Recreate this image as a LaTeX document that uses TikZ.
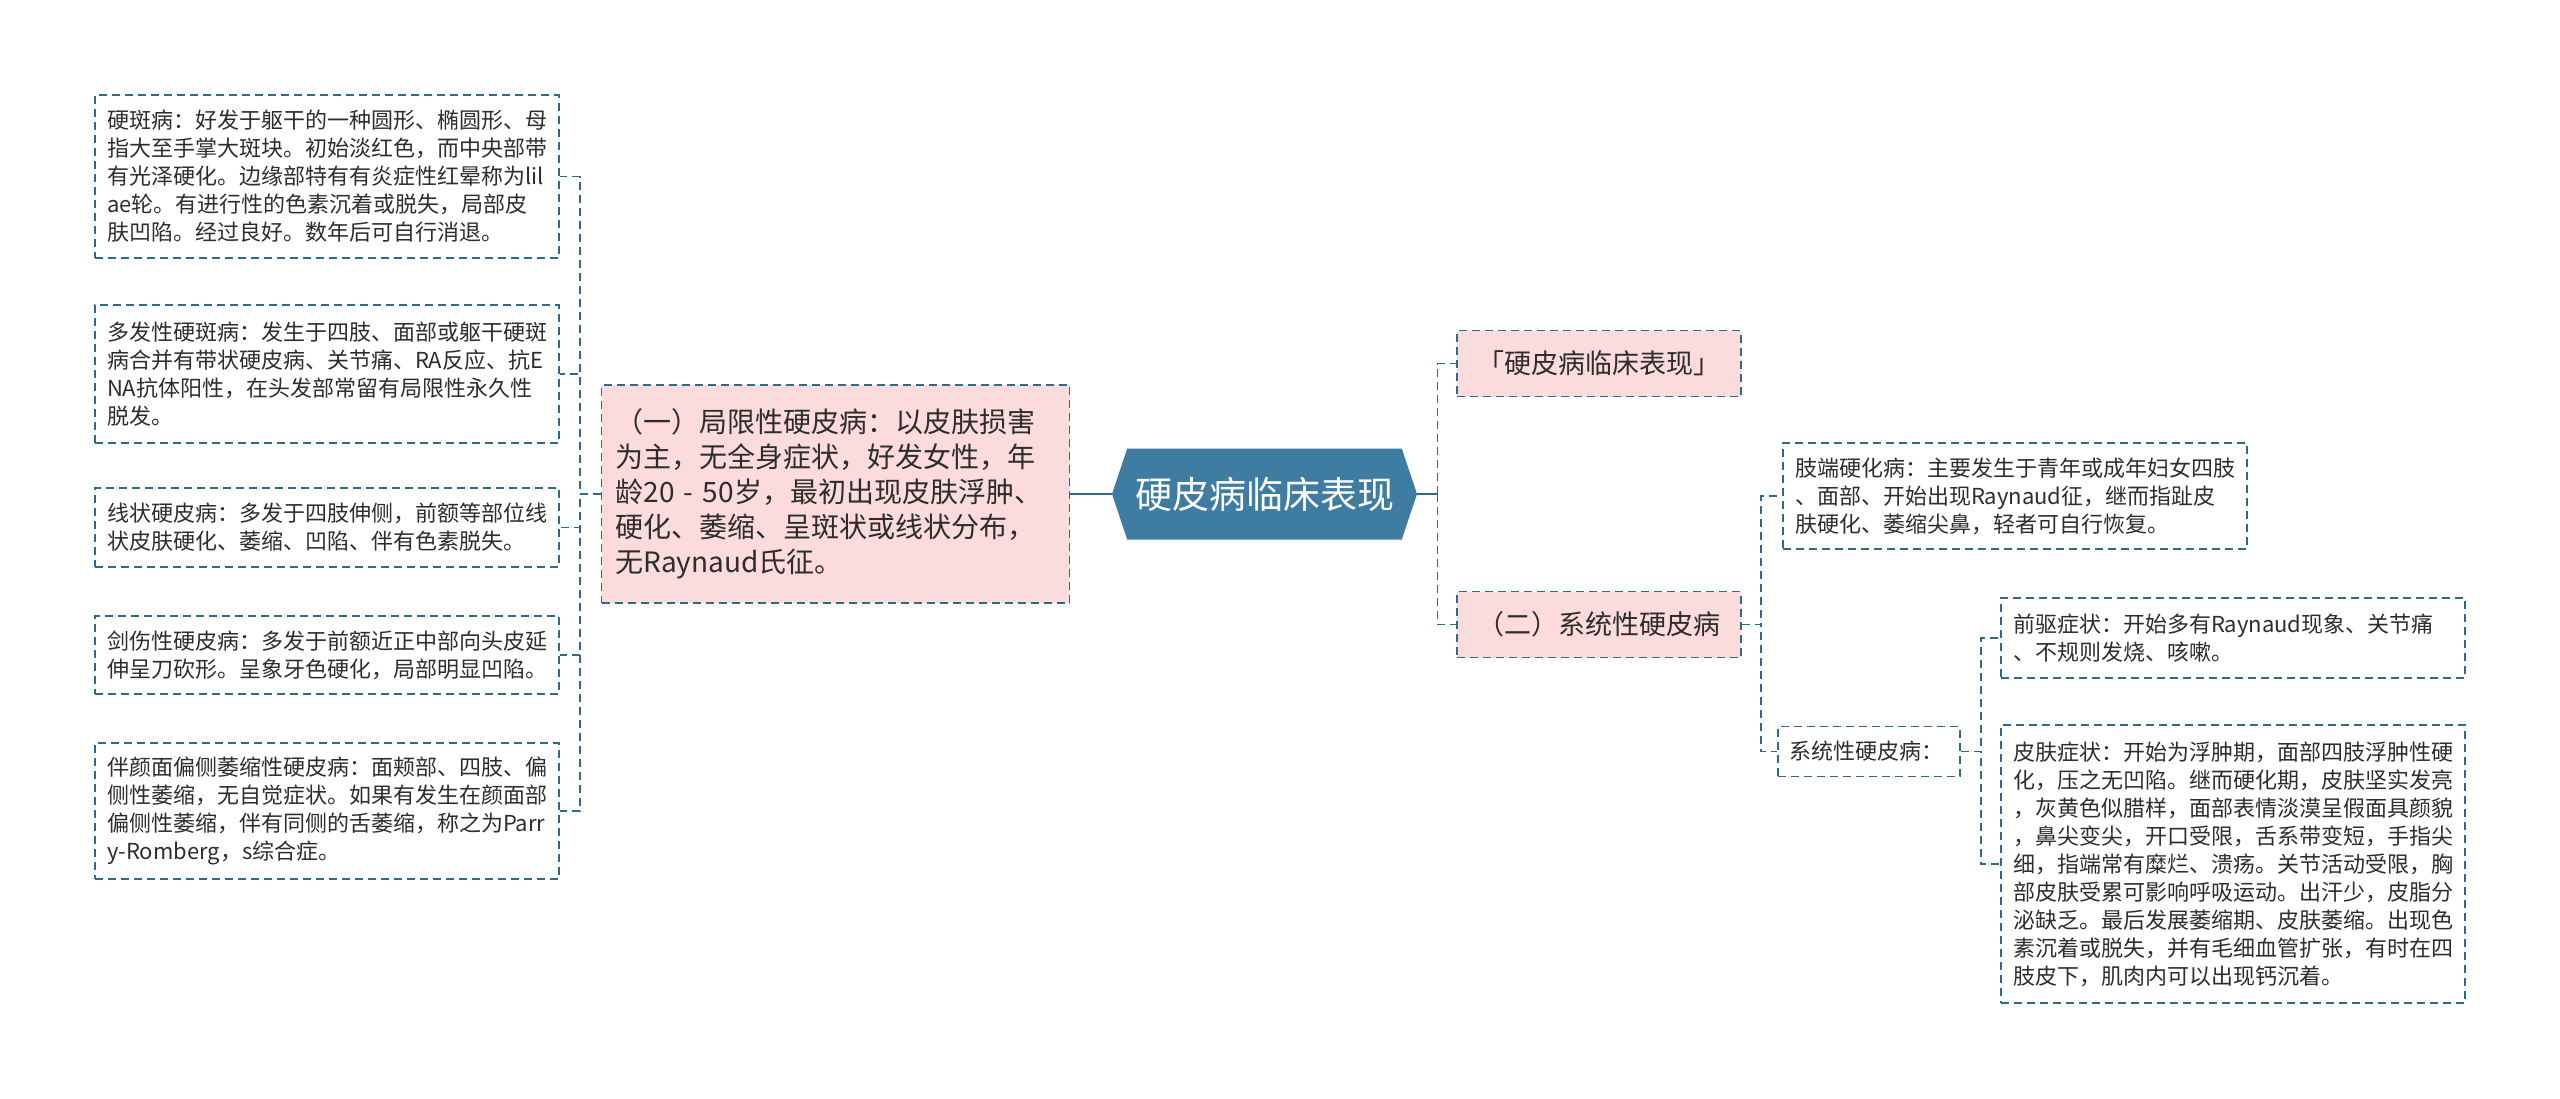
\documentclass[tikz,border=0pt]{standalone}
\usepackage{fontspec}
\setmainfont{Noto Sans CJK SC}
\usetikzlibrary{shapes.symbols}
\definecolor{lineblue}{RGB}{46,106,140}
\definecolor{rootblue}{RGB}{62,124,162}
\definecolor{pinkfill}{RGB}{251,219,219}
\definecolor{txtgray}{RGB}{45,45,45}
\begin{document}
\begin{tikzpicture}[x=0.5pt,y=-0.5pt,
    every node/.style={text=txtgray,inner ysep=0pt},
    link/.style={draw=lineblue,line width=0.9pt,dash pattern=on 4pt off 2.5pt},
    rootlink/.style={draw=lineblue,line width=1pt},
    leaf/.style={link,text width=220pt,inner xsep=6pt,align=left,font=\fontsize{11}{14}\selectfont},
    branch/.style={link,fill=pinkfill,font=\fontsize{13.5}{16}\selectfont}]
        \useasboundingbox (0,0) rectangle (2560,1098);
        \node[shape=signal,signal to=west and east,signal pointer angle=143,fill=rootblue,
            minimum width=152.5pt,minimum height=45.5pt,inner xsep=0pt,text=white,
            font=\fontsize{18.5}{20}\selectfont] (ctr) at (1264.5,494){硬皮病临床表现};
        \node[branch,text width=220pt,inner xsep=7pt,minimum height=109pt,align=left,
            font=\fontsize{14}{17.5}\selectfont] (ya) at (835.5,494){%
            （一）局限性硬皮病：以皮肤损害\\
            为主，无全身症状，好发女性，年\\
            龄20 - 50岁，最初出现皮肤浮肿、\\
            硬化、萎缩、呈斑状或线状分布，\\
            无Raynaud氏征。};
        \node[leaf,minimum height=81.5pt] (b1) at (327,176.5){%
            硬斑病：好发于躯干的一种圆形、椭圆形、母\\
            指大至手掌大斑块。初始淡红色，而中央部带\\
            有光泽硬化。边缘部特有有炎症性红晕称为lil\\
            ae轮。有进行性的色素沉着或脱失，局部皮\\
            肤凹陷。经过良好。数年后可自行消退。};
        \node[leaf,minimum height=69pt] (b2) at (327,374){%
            多发性硬斑病：发生于四肢、面部或躯干硬斑\\
            病合并有带状硬皮病、关节痛、RA反应、抗E\\
            NA抗体阳性，在头发部常留有局限性永久性\\
            脱发。};
        \node[leaf,minimum height=39.5pt] (b3) at (327,527.5){%
            线状硬皮病：多发于四肢伸侧，前额等部位线\\
            状皮肤硬化、萎缩、凹陷、伴有色素脱失。};
        \node[leaf,minimum height=39pt] (b4) at (327,655){%
            剑伤性硬皮病：多发于前额近正中部向头皮延\\
            伸呈刀砍形。呈象牙色硬化，局部明显凹陷。};
        \node[leaf,minimum height=68pt] (b5) at (327,811){%
            伴颜面偏侧萎缩性硬皮病：面颊部、四肢、偏\\
            侧性萎缩，无自觉症状。如果有发生在颜面部\\
            偏侧性萎缩，伴有同侧的舌萎缩，称之为Parr\\
            y-Romberg，s综合症。};
        \node[branch,minimum width=142pt,minimum height=33pt] (t1) at (1599,363.5){「硬皮病临床表现」};
        \node[branch,minimum width=142pt,minimum height=33pt] (t2) at (1599,624.5){（二）系统性硬皮病};
        \node[leaf,minimum height=53pt] (r1) at (2015,496){%
            肢端硬化病：主要发生于青年或成年妇女四肢\\
            、面部、开始出现Raynaud征，继而指趾皮\\
            肤硬化、萎缩尖鼻，轻者可自行恢复。};
        \node[leaf,text width=80pt,inner xsep=5.5pt,minimum height=25pt] (r2) at (1869,751.5){系统性硬皮病：};
        \node[leaf,minimum height=40pt] (r3) at (2233,638){%
            前驱症状：开始多有Raynaud现象、关节痛\\
            、不规则发烧、咳嗽。};
        \node[leaf,minimum height=139pt] (r4) at (2233,864){%
            皮肤症状：开始为浮肿期，面部四肢浮肿性硬\\
            化，压之无凹陷。继而硬化期，皮肤坚实发亮\\
            ，灰黄色似腊样，面部表情淡漠呈假面具颜貌\\
            ，鼻尖变尖，开口受限，舌系带变短，手指尖\\
            细，指端常有糜烂、溃疡。关节活动受限，胸\\
            部皮肤受累可影响呼吸运动。出汗少，皮脂分\\
            泌缺乏。最后发展萎缩期、皮肤萎缩。出现色\\
            素沉着或脱失，并有毛细血管扩张，有时在四\\
            肢皮下，肌肉内可以出现钙沉着。};
        \draw[rootlink] (ctr.west) -- (ya.east);
        \draw[rootlink] (ctr.east) -- ++(20,0) coordinate (rj);
        \foreach \b in {b1,b2,b3,b4,b5}
            \draw[link] (ya.west) -- ++(-21,0) |- (\b.east);
        \foreach \t in {t1,t2}
            \draw[link] (rj) |- (\t.west);
        \foreach \r in {r1,r2}
            \draw[link] (t2.east) -- ++(19,0) |- (\r.west);
        \foreach \r in {r3,r4}
            \draw[link] (r2.east) -- ++(20,0) |- (\r.west);
    \end{tikzpicture}
\end{document}
